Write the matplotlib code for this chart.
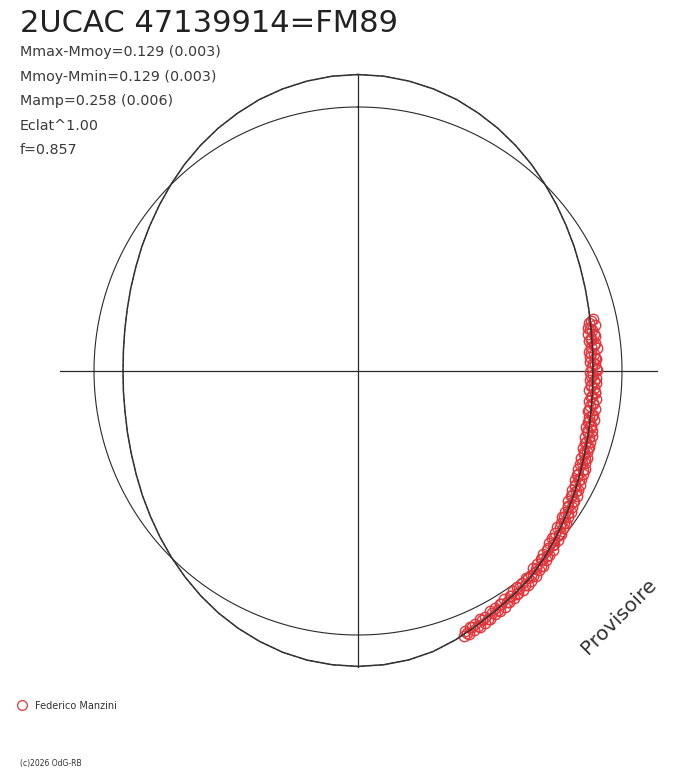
import numpy as np
import matplotlib.pyplot as plt

# Courbe de lumière repliée en coordonnées polaires (rayon relatif, cercle moyen = 1)
angle_courbe = np.arange(0, 360, 5)  # degrés, sens horaire depuis le haut
rayon_courbe = [1.123, 1.121, 1.115, 1.106, 1.094, 1.078, 1.061, 1.042, 1.022, 1.001,
                0.981, 0.962, 0.945, 0.929, 0.916, 0.905, 0.897, 0.892,
                0.890, 0.892, 0.896, 0.904, 0.914, 0.927, 0.943, 0.960, 0.979, 0.999,
                1.019, 1.032, 1.046, 1.064, 1.083, 1.100, 1.111, 1.117,
                1.119, 1.117, 1.112, 1.103, 1.090, 1.075, 1.058, 1.039, 1.019, 0.999,
                0.979, 0.960, 0.943, 0.927, 0.914, 0.904, 0.896, 0.892,
                0.890, 0.892, 0.897, 0.905, 0.916, 0.929, 0.945, 0.962, 0.981, 1.001,
                1.022, 1.042, 1.061, 1.078, 1.094, 1.106, 1.115, 1.121]

# Mesures (observateur : Federico Manzini)
angle_mes = [77.6, 78.3, 79.0, 79.4, 80.1, 80.8, 81.5, 82.0, 82.7, 83.3, 84.0, 84.6, 85.2,
             85.9, 86.5, 87.1, 87.8, 88.4, 89.0, 89.7, 90.3, 90.9, 91.6, 92.2, 92.8, 93.5,
             94.1, 94.8, 95.4, 96.0, 96.7, 97.3, 98.0, 98.6, 99.2, 99.9, 100.5, 101.2,
             101.8, 102.4, 103.1, 103.7, 104.4, 105.0, 105.6, 106.3, 106.9, 107.6, 108.2,
             108.9, 109.5, 110.1, 110.8, 111.4, 112.1, 112.7, 113.4, 114.0, 114.6, 115.3,
             115.9, 116.6, 117.2, 117.9, 118.5, 119.1, 119.8, 120.4, 121.1, 121.7, 122.4,
             123.0, 123.6, 124.3, 124.9, 125.6, 126.2, 126.9, 127.5, 128.1, 128.8, 129.4,
             130.1, 130.7, 131.4, 132.0, 132.6, 133.3, 133.9, 134.6, 135.2, 135.9, 136.5,
             137.1, 137.8, 138.4, 139.1, 139.7, 140.4, 141.0, 141.6, 142.3, 142.9, 143.6,
             144.2, 144.9, 145.5, 146.1, 146.8, 147.4, 148.1, 148.7, 149.4, 150.0, 150.6,
             151.3, 151.9, 152.6, 153.2, 153.9, 154.5, 155.1, 155.8, 156.4, 157.1, 157.7,
             158.3]
rayon_mes = [0.911, 0.892, 0.913, 0.886, 0.901, 0.881, 0.906, 0.892, 0.881, 0.902, 0.887,
             0.908, 0.878, 0.895, 0.882, 0.903, 0.880, 0.897, 0.886, 0.905, 0.877, 0.892,
             0.901, 0.881, 0.904, 0.886, 0.898, 0.878, 0.903, 0.891, 0.909, 0.883, 0.899,
             0.887, 0.908, 0.884, 0.906, 0.892, 0.914, 0.891, 0.908, 0.889, 0.915, 0.900,
             0.919, 0.897, 0.919, 0.902, 0.923, 0.900, 0.922, 0.911, 0.928, 0.906, 0.929,
             0.913, 0.936, 0.912, 0.937, 0.919, 0.938, 0.919, 0.946, 0.930, 0.948, 0.929,
             0.955, 0.936, 0.956, 0.937, 0.962, 0.948, 0.968, 0.948, 0.968, 0.949, 0.976,
             0.960, 0.979, 0.959, 0.985, 0.967, 0.992, 0.970, 0.992, 0.974, 1.001, 0.986,
             1.004, 0.985, 1.011, 0.994, 1.018, 0.998, 1.019, 1.000, 1.028, 1.011, 1.030,
             1.010, 1.034, 1.016, 1.039, 1.017, 1.038, 1.019, 1.045, 1.029, 1.047, 1.027,
             1.052, 1.033, 1.057, 1.036, 1.057, 1.038, 1.065, 1.048, 1.068, 1.048, 1.073,
             1.055, 1.075, 1.057, 1.082, 1.064, 1.082]
# deuxième nuit de la même série
angle_mes_b = [78.0, 79.7, 81.2, 82.4, 83.7, 85.5, 86.8, 88.1, 89.4, 91.2, 92.5, 93.8,
               95.1, 96.4, 97.7, 99.5, 100.8, 102.1, 103.4, 104.7, 106.0, 107.3, 108.6,
               109.8, 111.1, 112.4, 113.7, 115.0, 116.3, 117.6, 118.8, 120.1, 121.4, 122.7,
               124.0, 125.3, 126.5, 127.8, 129.1, 130.4, 131.7, 133.0, 134.3, 135.5, 136.8,
               138.1, 139.4, 140.7, 142.0, 143.3, 144.6, 145.8, 147.1, 148.4, 149.7, 151.0,
               152.3, 153.6, 154.8, 156.1, 157.4]
rayon_mes_b = [0.903, 0.892, 0.905, 0.892, 0.899, 0.885, 0.899, 0.889, 0.900, 0.884, 0.895,
               0.883, 0.901, 0.890, 0.900, 0.888, 0.901, 0.895, 0.909, 0.897, 0.911, 0.904,
               0.918, 0.909, 0.923, 0.917, 0.931, 0.921, 0.935, 0.928, 0.944, 0.939, 0.955,
               0.947, 0.961, 0.955, 0.971, 0.967, 0.982, 0.975, 0.989, 0.985, 1.001, 0.997,
               1.012, 1.007, 1.021, 1.015, 1.029, 1.023, 1.037, 1.029, 1.042, 1.035, 1.050,
               1.046, 1.060, 1.054, 1.067, 1.062, 1.076]

titre = "2UCAC 47139914=FM89"
infos = ["Mmax-Mmoy=0.129 (0.003)", "Mmoy-Mmin=0.129 (0.003)",
         "Mamp=0.258 (0.006)", "Eclat^1.00", "f=0.857"]

rouge = "#e5353a"
gris = "#2a2a2a"
police = "DejaVu Sans"

W, H = 688, 768
fig = plt.figure(figsize=(W / 100, H / 100), dpi=100)
ax = fig.add_axes([0, 0, 1, 1])
R = 264.0  # pixels pour un rayon relatif de 1
cx, cy = 358.0, 371.0
ax.set_xlim(-cx / R, (W - cx) / R)
ax.set_ylim(-(H - cy) / R, cy / R)
ax.set_aspect("equal")
ax.axis("off")

def polaire(angle_deg, rayon):
    t = np.radians(np.asarray(angle_deg, dtype=float))
    r = np.asarray(rayon, dtype=float)
    return r * np.sin(t), r * np.cos(t)

# Cercle moyen et axes
t = np.linspace(0, 360, 721)
xc, yc = polaire(t, np.ones_like(t))
ax.plot(xc, yc, color=gris, lw=0.8)
ax.plot([-1.13, 1.133], [0, 0], color=gris, lw=0.9)
ax.plot([0, 0], [-1.121, 1.121], color=gris, lw=0.9)

# Mesures
xm, ym = polaire(angle_mes + angle_mes_b, rayon_mes + rayon_mes_b)
ax.plot(xm, ym, "o", ms=7.5, mfc="none", mec=rouge, mew=1.0, zorder=3)

# Courbe ajustée (fermée)
xa, ya = polaire(list(angle_courbe) + [360], rayon_courbe + rayon_courbe[:1])
ax.plot(xa, ya, color="#333333", lw=1.1, zorder=4)
ax.plot(xa, ya, color="#333333", lw=0.7, ls=(0, (4, 2)), zorder=4)

# Textes
fig.text(20 / W, 1 - 32 / H, titre, fontsize=22, color="#222222", family=police)
for i, ligne in enumerate(infos):
    fig.text(20 / W, 1 - (56 + 24.5 * i) / H, ligne, fontsize=10.3, color="#3a3a3a",
             family=police)

fig.text(588 / W, 1 - 655 / H, "Provisoire", fontsize=14.5, color="#333333", family=police,
         rotation=45, rotation_mode="anchor", ha="left", va="baseline")

ax.plot([(22.3 - cx) / R], [(cy - 704.5) / R], "o", ms=7, mfc="none", mec=rouge, mew=0.9)
fig.text(35 / W, 1 - 709 / H, "Federico Manzini", fontsize=7, color="#333333",
         family=police)
fig.text(20 / W, 1 - 766 / H, "(c)2026 OdG-RB", fontsize=5.5, color="#333333", family=police)

fig.savefig("out.png", dpi=100)
